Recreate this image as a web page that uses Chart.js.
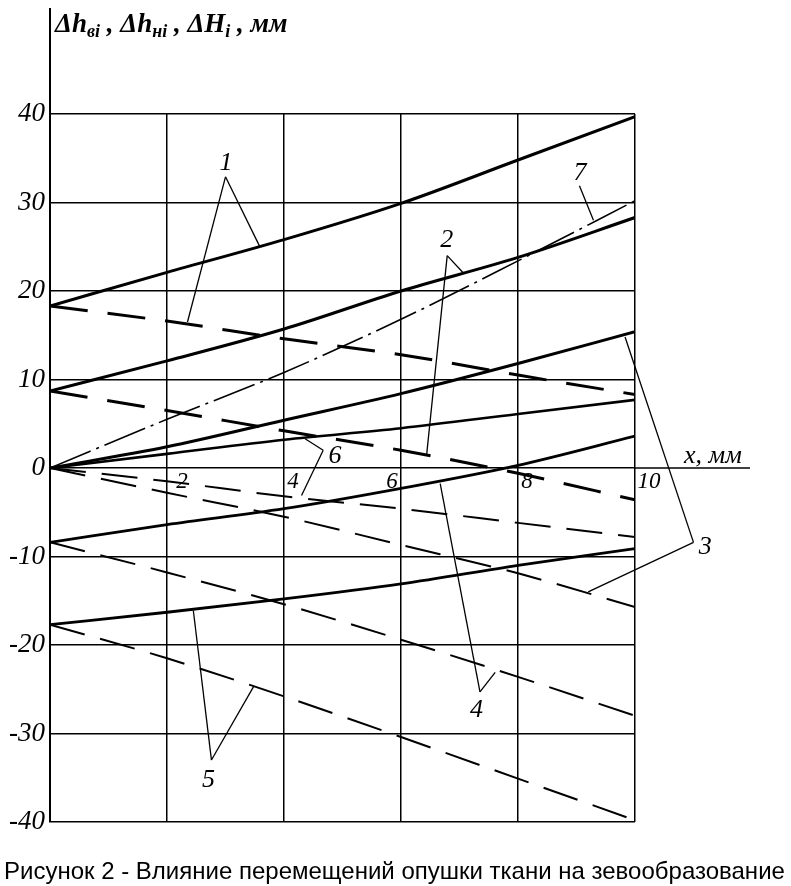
<!DOCTYPE html>
<html><head><meta charset="utf-8">
<script src="https://cdn.jsdelivr.net/npm/chart.js@4/dist/chart.umd.min.js"></script>
<style>html,body{margin:0;padding:0;background:#fff;}canvas{display:block}</style>
</head><body>
<canvas id="c" width="791" height="886"></canvas>
<script>
// ---- data ----
const xValues      = [0, 2, 4, 6, 8, 10];
const curve1Solid  = [18.3, 22.1, 25.8, 29.9, 34.8, 39.7];
const curve1Dashed = [18.3, 16.6, 14.6, 12.8, 10.5, 8.3];
const curve2Solid  = [8.7, 12.1, 15.7, 20.0, 23.8, 28.3];
const curve2Dashed = [8.7, 6.5, 4.2, 2.0, -0.6, -3.6];
const curve3Solid  = [0, 2.4, 5.4, 8.4, 11.8, 15.4];
const curve3Dashed = [0, -2.8, -5.5, -8.7, -11.9, -15.7];
const curve4Solid  = [-8.4, -6.4, -4.6, -2.3, 0.3, 3.6];
const curve4Dashed = [-8.4, -11.8, -15.4, -19.4, -23.6, -28.0];
const curve5Solid  = [-17.7, -16.3, -14.8, -13.1, -11.0, -9.1];
const curve5Dashed = [-17.7, -21.5, -25.8, -30.4, -35.1, -39.8];
const curve6Solid  = [0, 1.6, 3.2, 4.5, 6.1, 7.7];
const curve6Dashed = [0, -1.5, -3.2, -4.6, -6.2, -7.8];
const curve7DashDot = [0, 5.5, 10.8, 16.8, 23.4, 30.2];
const xTickValues  = [2, 4, 6, 8, 10];
const xTickLabels  = ['2', '4', '6', '8', '10'];
const yAxisTitleParts = [['Δh',0],['ві',1],[' , Δh',0],['нi',1],[' , ΔH',0],['i',1],[' , мм',0]];
const xAxisTitle = 'x, мм';
const caption = 'Рисунок 2 - Влияние перемещений опушки ткани на зевообразование';
// callout labels: number, label position, apex, leader end points (data units)
const calloutLabels = ['1','2','7','3','4','5','6'];
const calloutText   = [[3.01,34.5],[6.78,25.7],[9.06,33.3],[11.2,-8.9],[7.29,-27.4],[2.71,-35.3],[4.87,1.36]];
const calloutApex   = [[3.00,32.9],[6.79,24.0],[9.05,31.9],[11.0,-8.4],[7.35,-25.3],[2.76,-33.0],[4.67,2.0]];
const calloutEnds   = [[[3.58,25.1],[2.35,16.5]],[[7.07,22.0],[6.44,1.6]],[[9.29,28.0]],[[9.83,14.8],[9.20,-14.0]],[[6.67,-1.77],[7.61,-23.1]],[[2.45,-16.1],[3.48,-24.7]],[[4.36,3.3],[4.30,-3.1]]];

const pts = arr => xValues.map((x, i) => ({x: x, y: arr[i]}));
const SERIF = '"Liberation Serif", "Times New Roman", serif';
function ds(arr, width, dash) {
  return {data: pts(arr), borderColor: '#000', borderWidth: width, borderDash: dash || [],
          pointRadius: 0, fill: false, cubicInterpolationMode: 'monotone', borderCapStyle: 'butt'};
}

const overlay = {
  id: 'overlay',
  afterDraw(chart) {
    const ctx = chart.ctx, xs = chart.scales.x, ys = chart.scales.y, a = chart.chartArea;
    const X = v => xs.getPixelForValue(v), Y = v => ys.getPixelForValue(v);
    ctx.save();
    ctx.strokeStyle = '#000'; ctx.fillStyle = '#000';
    // axis extensions
    ctx.lineWidth = 2;
    ctx.beginPath(); ctx.moveTo(a.left, 8); ctx.lineTo(a.left, a.top); ctx.stroke();
    ctx.lineWidth = 1.5;
    ctx.beginPath(); ctx.moveTo(a.right, Y(0)); ctx.lineTo(750, Y(0)); ctx.stroke();
    // x tick labels
    const dx = [15, 9, -9, 9, 14];
    ctx.font = 'italic 23px ' + SERIF; ctx.textAlign = 'center'; ctx.textBaseline = 'middle';
    xTickValues.forEach((v, i) => ctx.fillText(xTickLabels[i], X(v) + dx[i], Y(0) + 14));
    // x axis title
    ctx.font = 'italic 26px ' + SERIF; ctx.textAlign = 'left'; ctx.textBaseline = 'alphabetic';
    ctx.fillText(xAxisTitle, 684, 463);
    // y axis title
    let tx = 55;
    yAxisTitleParts.forEach(([t, sub]) => {
      ctx.font = sub ? 'bold italic 18px ' + SERIF : 'bold italic 27px ' + SERIF;
      ctx.fillText(t, tx, sub ? 37 : 32);
      tx += ctx.measureText(t).width;
    });
    // callouts
    ctx.lineWidth = 1.3;
    calloutLabels.forEach((lab, i) => {
      const ap = calloutApex[i];
      calloutEnds[i].forEach(e => {
        ctx.beginPath(); ctx.moveTo(X(ap[0]), Y(ap[1])); ctx.lineTo(X(e[0]), Y(e[1])); ctx.stroke();
      });
      ctx.font = 'italic 26px ' + SERIF; ctx.textAlign = 'center'; ctx.textBaseline = 'middle';
      ctx.fillText(lab, X(calloutText[i][0]), Y(calloutText[i][1]));
    });
    // caption
    ctx.font = '24px "Liberation Sans", Arial, sans-serif'; ctx.textAlign = 'left'; ctx.textBaseline = 'alphabetic';
    ctx.fillText(caption, 4, 879);
    ctx.restore();
  }
};

new Chart(document.getElementById('c'), {
  type: 'line',
  data: {
    datasets: [
      ds(curve1Solid, 3), ds(curve1Dashed, 3, [38, 20]),
      ds(curve2Solid, 3), ds(curve2Dashed, 3, [38, 20]),
      ds(curve3Solid, 3), ds(curve3Dashed, 2, [36, 16]),
      ds(curve4Solid, 2.8), ds(curve4Dashed, 2, [36, 16]),
      ds(curve5Solid, 2.8), ds(curve5Dashed, 2, [36, 16]),
      ds(curve6Solid, 2.6), ds(curve6Dashed, 2, [36, 16]),
      ds(curve7DashDot, 1.6, [44, 6, 3, 6])
    ]
  },
  options: {
    responsive: false, animation: false, devicePixelRatio: 1,
    layout: {padding: {left: 0, right: 156, top: 114, bottom: 64}},
    plugins: {legend: {display: false}, tooltip: {enabled: false}, title: {display: false}},
    scales: {
      x: {type: 'linear', min: 0, max: 10, position: {y: 0},
          ticks: {stepSize: 2, display: false},
          grid: {color: '#000', lineWidth: 1.5, drawTicks: false},
          border: {display: false}},
      y: {type: 'linear', min: -40, max: 40,
          ticks: {stepSize: 10, color: '#000', padding: 5, font: {family: SERIF, size: 27, style: 'italic'}},
          grid: {color: '#000', lineWidth: 1.5, drawTicks: false},
          border: {display: true, color: '#000', width: 2},
          afterFit: s => { s.width = 50; }}
    }
  },
  plugins: [overlay]
});
</script>
</body></html>
